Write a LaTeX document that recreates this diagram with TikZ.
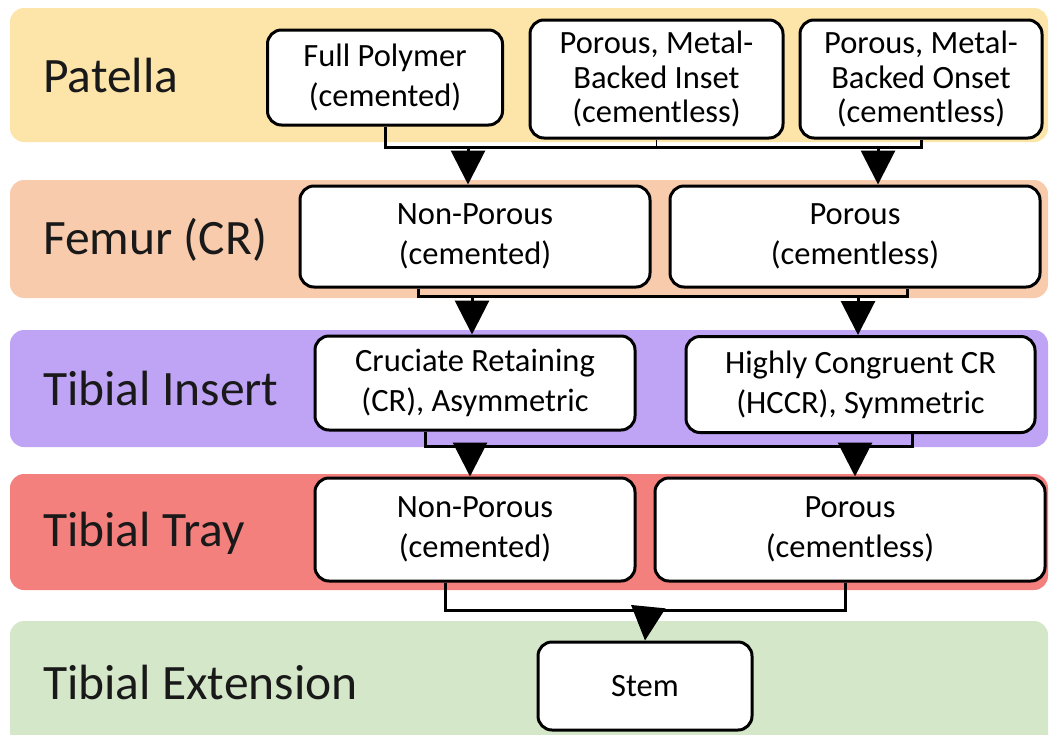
\documentclass[tikz,border=0pt]{standalone}
\usepackage{fontspec}
\setmainfont{Carlito}
\usepackage{tikz}
\usetikzlibrary{arrows.meta}
\definecolor{patcol}{HTML}{FDE5A9}
\definecolor{femcol}{HTML}{F8CBAD}
\definecolor{inscol}{HTML}{BFA3F5}
\definecolor{traycol}{HTML}{F4807E}
\definecolor{extcol}{HTML}{D4E7C9}
\tikzset{
  band/.style={rounded corners=14pt},
  lbl/.style={anchor=west, inner sep=0pt, text=black!90, font=\fontsize{49.5}{56}\selectfont},
  opt/.style={draw, line width=3pt, rounded corners=14pt, fill=white, align=center,
    inner sep=0pt, font=\fontsize{32.5}{40}\selectfont},
  tight/.style={font=\fontsize{32.5}{34.5}\selectfont},
  link/.style={line width=3pt},
  flow/.style={line width=3pt, -{Triangle[width=34pt,length=34pt]}}
}

\begin{document}
\begin{tikzpicture}[x=1pt,y=-1pt]
\useasboundingbox (0,0) rectangle (1051,734);
\fill[patcol, band] (10,8) rectangle (1048,142);
\fill[femcol, band] (10,180) rectangle (1048,298);
\fill[inscol, band] (10,330) rectangle (1048,447);
\fill[traycol, band] (10,474) rectangle (1048,590);
\fill[extcol, band] (10,621) rectangle (1048,750);

\node[lbl] (patella) at (43,75) {Patella};
\node[lbl] (femur) at (43,240) {Femur (CR)};
\node[lbl] (insert) at (43,388) {Tibial Insert};
\node[lbl] (tray) at (43,533) {Tibial Tray};
\node[lbl] (ext) at (43,682) {Tibial Extension};

\node[opt, minimum width=235pt, minimum height=95pt] (poly) at (385,77.5) {Full Polymer\\(cemented)};
\node[opt, tight, minimum width=253pt, minimum height=118pt] (inset) at (656.5,79) {Porous, Metal-\\Backed Inset\\(cementless)};
\node[opt, tight, minimum width=242pt, minimum height=118pt] (onset) at (921,79) {Porous, Metal-\\Backed Onset\\(cementless)};

\node[opt, minimum width=350pt, minimum height=101pt] (fnp) at (475,236.5) {Non-Porous\\(cemented)};
\node[opt, minimum width=370pt, minimum height=101pt] (fp) at (855,236.5) {Porous\\(cementless)};

\node[opt, minimum width=320pt, minimum height=94pt] (icr) at (475,383) {Cruciate Retaining\\(CR), Asymmetric};
\node[opt, minimum width=349pt, minimum height=96pt] (ihc) at (860.5,384.5) {Highly Congruent CR\\(HCCR), Symmetric};

\node[opt, minimum width=320pt, minimum height=103pt] (tnp) at (475,529.5) {Non-Porous\\(cemented)};
\node[opt, minimum width=390pt, minimum height=103pt] (tp) at (850,529.5) {Porous\\(cementless)};

\node[opt, minimum width=214pt, minimum height=88pt] (stem) at (645,686) {Stem};

\coordinate (pbar) at (0,147);

\draw[link] (poly.south) -- (poly.south |- pbar) -- (onset.south |- pbar) -- (onset.south);
\draw[line width=1.5pt] (inset.south) -- (inset.south |- pbar);
\coordinate (p1) at (468,147);
\coordinate (p2) at (878,147);
\draw[flow] (p1) -- (p1 |- fnp.north);
\draw[flow] (p2) -- (p2 |- fp.north);

\coordinate (f1) at (418,296);
\coordinate (f2) at (907,296);
\draw[link] (f1 |- fnp.south) -- (f1) -- (f2) -- (f2 |- fp.south);
\coordinate (f3) at (472,296);
\coordinate (f4) at (858,296);
\draw[flow] (f3) -- (f3 |- icr.north);
\draw[flow] (f4) -- (f4 |- ihc.north);

\coordinate (i1) at (425,446);
\coordinate (i2) at (912,446);
\draw[link] (i1 |- icr.south) -- (i1) -- (i2) -- (i2 |- ihc.south);
\coordinate (i3) at (470,446);
\coordinate (i4) at (855,446);
\draw[flow] (i3) -- (i3 |- tnp.north);
\draw[flow] (i4) -- (i4 |- tp.north);

\coordinate (t1) at (445,610);
\coordinate (t2) at (845,610);
\draw[link] (t1 |- tnp.south) -- (t1) -- (t2) -- (t2 |- tp.south);
\coordinate (t3) at (648,610);
\draw[flow] (t3) -- (stem.north);
\end{tikzpicture}
\end{document}
